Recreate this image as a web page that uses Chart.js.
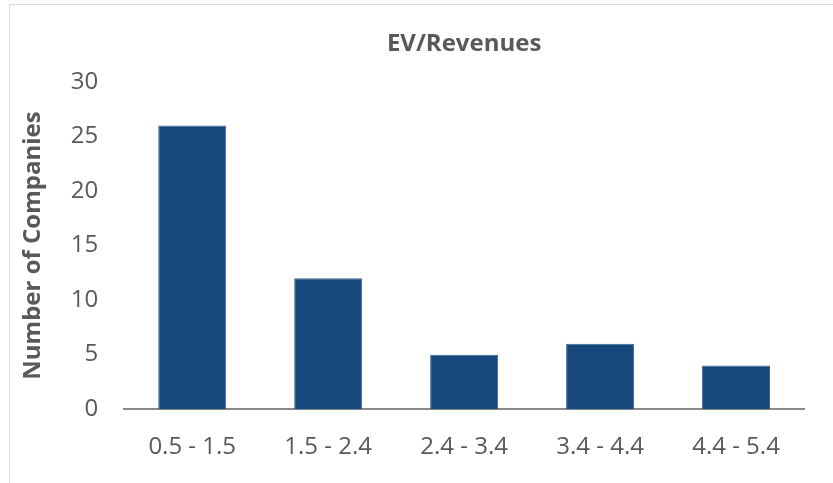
<!DOCTYPE html>
<html>
<head>
<meta charset="utf-8">
<script src="https://cdn.jsdelivr.net/npm/chart.js@4"></script>
<style>
  html, body { margin: 0; padding: 0; background: #fff; overflow: hidden; }
  #frame { position: absolute; left: 9px; top: 4px; width: 900px; height: 600px; border: 1px solid #d9d9d9; }
  #wrap { position: absolute; left: 0; top: 0; width: 833px; height: 483px; }
</style>
</head>
<body>
<div id="frame"></div>
<div id="wrap"><canvas id="evChart"></canvas></div>
<script>
// EV/Revenues histogram
const categories = ['0.5 - 1.5', '1.5 - 2.4', '2.4 - 3.4', '3.4 - 4.4', '4.4 - 5.4'];
const companies = [26, 12, 5, 6, 4];
const yTicks = [0, 5, 10, 15, 20, 25, 30];

const textColor = '#595959';
const ctx = document.getElementById('evChart').getContext('2d');
const evChart = new Chart(ctx, {
  type: 'bar',
  data: {
    labels: categories,
    datasets: [{
      label: 'Number of Companies',
      data: companies,
      backgroundColor: '#17487d',
      borderColor: '#3f6894',
      borderWidth: 1,
      barPercentage: 0.5,
      categoryPercentage: 1
    }]
  },
  options: {
    responsive: true,
    maintainAspectRatio: false,
    animation: false,
    layout: { padding: { left: 19, right: 29, top: 30, bottom: 5 } },
    plugins: {
      legend: { display: false },
      tooltip: { enabled: false },
      title: {
        display: true,
        text: 'EV/Revenues',
        color: textColor,
        fullSize: false,
        font: { family: 'Open Sans', size: 24, weight: 'bold' },
        padding: { top: 0, bottom: 23 }
      }
    },
    scales: {
      x: {
        grid: { display: false },
        border: { display: true, color: '#898989', width: 2 },
        ticks: { color: textColor, font: { family: 'Open Sans', size: 24 }, padding: 16 }
      },
      y: {
        min: 0,
        max: 30,
        afterBuildTicks: axis => { axis.ticks = yTicks.map(v => ({ value: v })); },
        grid: { display: false },
        border: { display: false },
        ticks: { color: textColor, font: { family: 'Open Sans', size: 24 }, padding: 18 },
        title: {
          display: true,
          text: 'Number of Companies',
          color: textColor,
          font: { family: 'Open Sans', size: 24, weight: 'bold' },
          padding: { top: 0, bottom: 5 }
        }
      }
    }
  }
});
</script>
</body>
</html>
